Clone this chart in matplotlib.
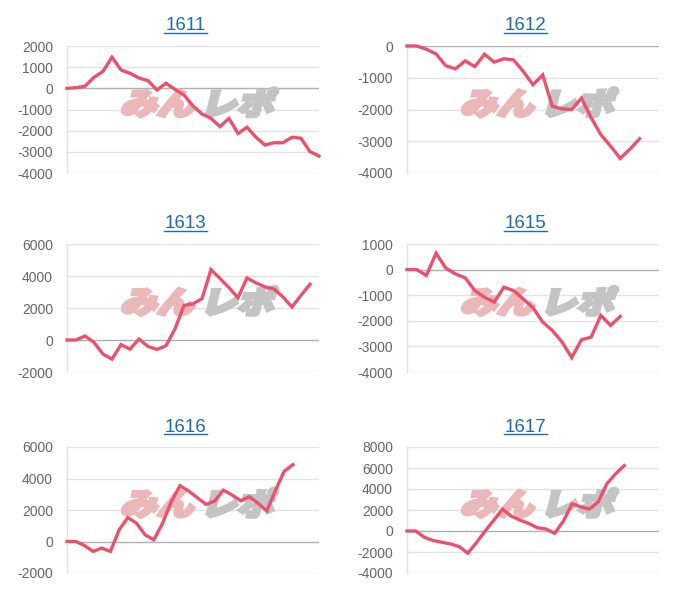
import matplotlib
matplotlib.use("Agg")
import matplotlib.pyplot as plt
import matplotlib.transforms as mtransforms
from matplotlib.textpath import TextPath
from matplotlib.patches import PathPatch
from matplotlib.font_manager import FontProperties
import numpy as np

plt.rcParams['font.family'] = ['Liberation Sans', 'DejaVu Sans']

# machine numbers (panel titles)
names = ["1611", "1612", "1613", "1615", "1616", "1617"]

# cumulative difference per day
v1611 = [0, 30, 100, 520, 800, 1470, 870, 710, 490, 360, -80, 240, -50, -310, -830,
         -1210, -1420, -1810, -1420, -2130, -1840, -2310, -2680, -2570, -2570,
         -2310, -2360, -2990, -3200]
v1612 = [0, 0, -100, -250, -620, -720, -470, -650, -260, -510, -400, -440, -800,
         -1220, -910, -1900, -1980, -2000, -1640, -2260, -2790, -3150, -3540,
         -3250, -2920]
v1613 = [0, 0, 250, -150, -880, -1200, -290, -570, 60, -400, -590, -360, 690,
         2160, 2260, 2580, 4400, 3840, 3270, 2640, 3880, 3570, 3320, 3190, 2690,
         2060, 2790, 3480]
v1615 = [0, 0, -230, 640, 60, -170, -320, -820, -1080, -1270, -690, -820, -1150,
         -1490, -2050, -2380, -2830, -3440, -2740, -2640, -1790, -2180, -1830]
v1616 = [0, 0, -250, -630, -420, -630, 740, 1520, 1160, 420, 110, 1160, 2530,
         3540, 3200, 2780, 2360, 2570, 3260, 2950, 2590, 2840, 2420, 1940, 3260,
         4460, 4880]
v1617 = [0, 0, -600, -900, -1070, -1230, -1480, -2110, -1100, 0, 1040, 2080, 1410,
         1040, 720, 310, 190, -220, 940, 2580, 2300, 2080, 2770, 4500, 5440, 6230]
values = [v1611, v1612, v1613, v1615, v1616, v1617]

# number of day labels on each x axis
n_days = [29, 27, 29, 27, 30, 30]

# y axis range and step
y_min = [-4000, -4000, -2000, -4000, -2000, -4000]
y_max = [2000, 0, 6000, 1000, 6000, 8000]
y_step = [1000, 1000, 2000, 1000, 2000, 2000]

line_col = '#eb516d'
title_col = '#1f6ab0'

fig = plt.figure(figsize=(7, 6), dpi=100)

W, H = 700.0, 600.0
lefts = [67, 407]
rows = [(46, 173), (244, 372), (447, 573)]

jp = FontProperties(family='Noto Sans CJK JP', weight='black')


def watermark(ax):
    # the "みんレポ" logo behind each chart
    x0, y0 = ax.transAxes.transform((0.21, 0.46))
    for s, col, dx in [("みん", '#ebb8ba', 0), ("レポ", '#c4c4c4', 80)]:
        tp = TextPath((0, 0), s, size=32, prop=jp)
        tr = mtransforms.Affine2D().scale(1.15, 0.95).skew_deg(14, 0).translate(x0 + dx, y0)
        patch = PathPatch(tp, transform=tr, facecolor=col, edgecolor=col, lw=2.5,
                          zorder=1.5, clip_on=False)
        ax.add_artist(patch)


for i, name in enumerate(names):
    col = i % 2
    top, bot = rows[i // 2]
    ax = fig.add_axes([lefts[col] / W, 1 - bot / H, 252 / W, (bot - top) / H])
    ax.set_facecolor('none')

    vals = values[i]
    ax.plot(np.arange(len(vals)), vals, color=line_col, lw=2.4,
            solid_joinstyle='miter', zorder=3, clip_on=False)

    ax.set_xlim(0, n_days[i] - 1)
    ax.set_ylim(y_min[i], y_max[i])
    ticks = np.arange(y_min[i], y_max[i] + 1, y_step[i])
    ax.set_yticks(ticks)
    ax.set_yticklabels([str(t) for t in ticks])
    ax.set_xticks([])
    ax.tick_params(axis='y', length=0, pad=10, labelsize=10, labelcolor='#666666')

    for t in ticks:
        ax.axhline(t, color='#b0b0b0' if t == 0 else '#e3e3e3',
                   lw=1.0, zorder=1)

    for sp in ['top', 'right', 'bottom']:
        ax.spines[sp].set_visible(False)
    ax.spines['left'].set_color('#e3e3e3')
    ax.spines['left'].set_linewidth(1.0)

    watermark(ax)

    # underlined title
    off = mtransforms.ScaledTranslation(0, 15.5 / 100, fig.dpi_scale_trans)
    ax.text(0.47, 1.0, name, transform=ax.transAxes + off, ha='center',
            va='baseline', fontsize=13.5, color=title_col)
    hw = 21.5 / 252
    ax.plot([0.47 - hw, 0.47 + hw], [1 + 13.0 / (bot - top)] * 2,
            transform=ax.transAxes, color=title_col, lw=1.0, clip_on=False)

fig.savefig("out.png", dpi=100)
